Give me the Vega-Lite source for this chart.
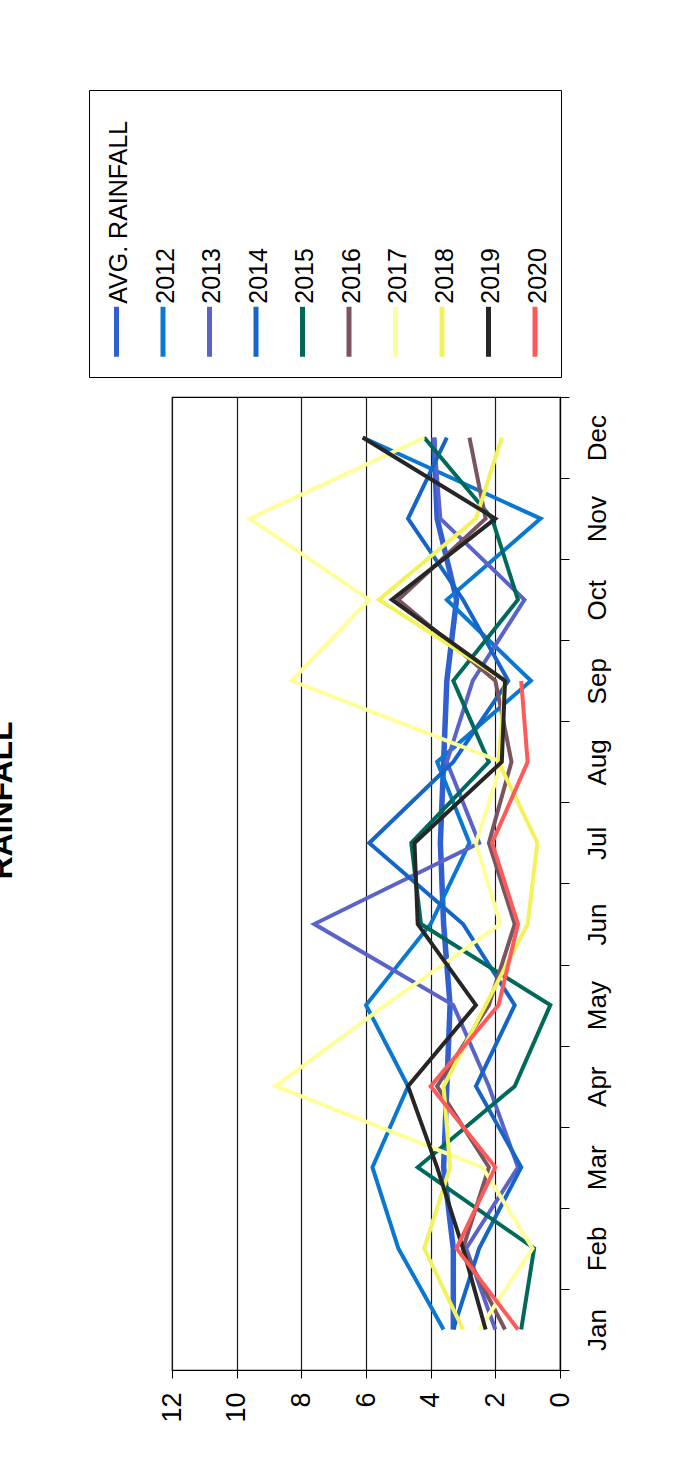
{
  "$schema": "https://vega.github.io/schema/vega-lite/v6.json",
  "autosize": {"type": "none"},
  "padding": {"left": 172, "top": 397, "right": 122, "bottom": 97},
  "width": 388,
  "height": 973,
  "background": "white",
  "title": {"text": "RAINFALL", "orient": "left", "anchor": "middle", "fontSize": 32, "fontWeight": "bold", "font": "Liberation Sans", "color": "black", "offset": 70, "dx": 83},
  "data": {"values": [
    {"month": "Jan", "series": "AVG. RAINFALL", "value": 3.3},
    {"month": "Feb", "series": "AVG. RAINFALL", "value": 3.3},
    {"month": "Mar", "series": "AVG. RAINFALL", "value": 3.6},
    {"month": "Apr", "series": "AVG. RAINFALL", "value": 3.5},
    {"month": "May", "series": "AVG. RAINFALL", "value": 3.4},
    {"month": "Jun", "series": "AVG. RAINFALL", "value": 3.6},
    {"month": "Jul", "series": "AVG. RAINFALL", "value": 3.7},
    {"month": "Aug", "series": "AVG. RAINFALL", "value": 3.6},
    {"month": "Sep", "series": "AVG. RAINFALL", "value": 3.5},
    {"month": "Oct", "series": "AVG. RAINFALL", "value": 3.2},
    {"month": "Nov", "series": "AVG. RAINFALL", "value": 3.8},
    {"month": "Dec", "series": "AVG. RAINFALL", "value": 3.9},
    {"month": "Jan", "series": "2012", "value": 3.6},
    {"month": "Feb", "series": "2012", "value": 5.0},
    {"month": "Mar", "series": "2012", "value": 5.8},
    {"month": "Apr", "series": "2012", "value": 4.7},
    {"month": "May", "series": "2012", "value": 6.0},
    {"month": "Jun", "series": "2012", "value": 4.0},
    {"month": "Jul", "series": "2012", "value": 2.8},
    {"month": "Aug", "series": "2012", "value": 3.8},
    {"month": "Sep", "series": "2012", "value": 0.9},
    {"month": "Oct", "series": "2012", "value": 3.5},
    {"month": "Nov", "series": "2012", "value": 0.6},
    {"month": "Dec", "series": "2012", "value": 6.1},
    {"month": "Jan", "series": "2013", "value": 2.0},
    {"month": "Feb", "series": "2013", "value": 2.9},
    {"month": "Mar", "series": "2013", "value": 1.3},
    {"month": "Apr", "series": "2013", "value": 2.2},
    {"month": "May", "series": "2013", "value": 3.3},
    {"month": "Jun", "series": "2013", "value": 7.6},
    {"month": "Jul", "series": "2013", "value": 2.5},
    {"month": "Aug", "series": "2013", "value": 3.5},
    {"month": "Sep", "series": "2013", "value": 2.7},
    {"month": "Oct", "series": "2013", "value": 1.1},
    {"month": "Nov", "series": "2013", "value": 3.7},
    {"month": "Dec", "series": "2013", "value": 3.9},
    {"month": "Jan", "series": "2014", "value": 3.3},
    {"month": "Feb", "series": "2014", "value": 2.5},
    {"month": "Mar", "series": "2014", "value": 1.2},
    {"month": "Apr", "series": "2014", "value": 2.6},
    {"month": "May", "series": "2014", "value": 1.4},
    {"month": "Jun", "series": "2014", "value": 3.0},
    {"month": "Jul", "series": "2014", "value": 5.9},
    {"month": "Aug", "series": "2014", "value": 3.3},
    {"month": "Sep", "series": "2014", "value": 1.6},
    {"month": "Oct", "series": "2014", "value": 3.0},
    {"month": "Nov", "series": "2014", "value": 4.7},
    {"month": "Dec", "series": "2014", "value": 3.5},
    {"month": "Jan", "series": "2015", "value": 1.2},
    {"month": "Feb", "series": "2015", "value": 0.8},
    {"month": "Mar", "series": "2015", "value": 4.4},
    {"month": "Apr", "series": "2015", "value": 1.4},
    {"month": "May", "series": "2015", "value": 0.3},
    {"month": "Jun", "series": "2015", "value": 4.3},
    {"month": "Jul", "series": "2015", "value": 4.6},
    {"month": "Aug", "series": "2015", "value": 2.2},
    {"month": "Sep", "series": "2015", "value": 3.3},
    {"month": "Oct", "series": "2015", "value": 1.3},
    {"month": "Nov", "series": "2015", "value": 2.1},
    {"month": "Dec", "series": "2015", "value": 4.2},
    {"month": "Jan", "series": "2016", "value": 1.7},
    {"month": "Feb", "series": "2016", "value": 3.0},
    {"month": "Mar", "series": "2016", "value": 2.2},
    {"month": "Apr", "series": "2016", "value": 3.8},
    {"month": "May", "series": "2016", "value": 2.2},
    {"month": "Jun", "series": "2016", "value": 1.4},
    {"month": "Jul", "series": "2016", "value": 2.2},
    {"month": "Aug", "series": "2016", "value": 1.5},
    {"month": "Sep", "series": "2016", "value": 2.0},
    {"month": "Oct", "series": "2016", "value": 5.0},
    {"month": "Nov", "series": "2016", "value": 2.3},
    {"month": "Dec", "series": "2016", "value": 2.8},
    {"month": "Jan", "series": "2017", "value": 2.5},
    {"month": "Feb", "series": "2017", "value": 0.85},
    {"month": "Mar", "series": "2017", "value": 2.4},
    {"month": "Apr", "series": "2017", "value": 8.8},
    {"month": "May", "series": "2017", "value": 5.4},
    {"month": "Jun", "series": "2017", "value": 1.85},
    {"month": "Jul", "series": "2017", "value": 2.6},
    {"month": "Aug", "series": "2017", "value": 1.8},
    {"month": "Sep", "series": "2017", "value": 8.3},
    {"month": "Oct", "series": "2017", "value": 5.9},
    {"month": "Nov", "series": "2017", "value": 9.6},
    {"month": "Dec", "series": "2017", "value": 4.2},
    {"month": "Jan", "series": "2018", "value": 3.0},
    {"month": "Feb", "series": "2018", "value": 4.2},
    {"month": "Mar", "series": "2018", "value": 3.4},
    {"month": "Apr", "series": "2018", "value": 3.6},
    {"month": "May", "series": "2018", "value": 2.3},
    {"month": "Jun", "series": "2018", "value": 1.0},
    {"month": "Jul", "series": "2018", "value": 0.7},
    {"month": "Aug", "series": "2018", "value": 1.9},
    {"month": "Sep", "series": "2018", "value": 1.7},
    {"month": "Oct", "series": "2018", "value": 5.6},
    {"month": "Nov", "series": "2018", "value": 2.6},
    {"month": "Dec", "series": "2018", "value": 1.8},
    {"month": "Jan", "series": "2019", "value": 2.3},
    {"month": "Feb", "series": "2019", "value": 3.0},
    {"month": "Mar", "series": "2019", "value": 3.8},
    {"month": "Apr", "series": "2019", "value": 4.7},
    {"month": "May", "series": "2019", "value": 2.6},
    {"month": "Jun", "series": "2019", "value": 4.4},
    {"month": "Jul", "series": "2019", "value": 4.5},
    {"month": "Aug", "series": "2019", "value": 1.8},
    {"month": "Sep", "series": "2019", "value": 1.7},
    {"month": "Oct", "series": "2019", "value": 5.2},
    {"month": "Nov", "series": "2019", "value": 2.0},
    {"month": "Dec", "series": "2019", "value": 6.1},
    {"month": "Jan", "series": "2020", "value": 1.3},
    {"month": "Feb", "series": "2020", "value": 3.2},
    {"month": "Mar", "series": "2020", "value": 2.0},
    {"month": "Apr", "series": "2020", "value": 4.0},
    {"month": "May", "series": "2020", "value": 1.9},
    {"month": "Jun", "series": "2020", "value": 1.3},
    {"month": "Jul", "series": "2020", "value": 2.1},
    {"month": "Aug", "series": "2020", "value": 1.0},
    {"month": "Sep", "series": "2020", "value": 1.2}
  ]},
  "mark": {"type": "line", "strokeJoin": "miter", "strokeCap": "butt"},
  "encoding": {
    "y": {
      "field": "month", "type": "ordinal",
      "sort": ["Dec", "Nov", "Oct", "Sep", "Aug", "Jul", "Jun", "May", "Apr", "Mar", "Feb", "Jan"],
      "scale": {"type": "band", "paddingInner": 0, "paddingOuter": 0},
      "axis": {
        "orient": "right", "title": null, "tickBand": "extent", "grid": false,
        "domainColor": "black", "domainWidth": 1.2, "tickColor": "black", "tickSize": 9,
        "labelAngle": -90, "labelAlign": "center", "labelBaseline": "top",
        "labelPadding": 15, "labelFontSize": 26, "labelFont": "Liberation Sans", "labelColor": "black"
      }
    },
    "x": {
      "field": "value", "type": "quantitative",
      "scale": {"domain": [0, 12], "reverse": true, "nice": false},
      "axis": {
        "orient": "bottom", "title": null, "values": [0, 2, 4, 6, 8, 10, 12],
        "grid": true, "gridColor": "#1a1a1a", "gridWidth": 1.2, "gridOpacity": 1,
        "domainColor": "black", "domainWidth": 1.2, "tickColor": "black", "tickSize": 8,
        "labelAngle": -90, "labelAlign": "right", "labelBaseline": "middle",
        "labelPadding": 14, "labelFontSize": 27, "labelFont": "Liberation Sans", "labelColor": "black"
      }
    },
    "color": {
      "field": "series", "type": "nominal",
      "scale": {
        "domain": ["AVG. RAINFALL", "2012", "2013", "2014", "2015", "2016", "2017", "2018", "2019", "2020"],
        "range": ["#2F5FD0", "#0A78D0", "#5A64C8", "#1565C8", "#00695A", "#7A5560", "#FFFF99", "#F2F25A", "#262626", "#FF5A5A"]
      },
      "legend": {
        "orient": "none", "legendX": -83, "legendY": -307,
        "direction": "horizontal", "columns": 10,
        "title": " ", "titleFontSize": 10, "titlePadding": 214, "titleOrient": "top",
        "symbolType": "M0,-2.33L0,1", "symbolSize": 900, "symbolStrokeWidth": 5,
        "labelFontSize": 25, "labelFont": "Liberation Sans", "labelColor": "black",
        "labelOffset": -15, "labelLimit": 500, "columnPadding": 12.5,
        "padding": 10, "strokeColor": "black", "fillColor": "white",
        "encode": {
          "labels": {"update": {"angle": {"value": -90}, "align": {"value": "left"}, "baseline": {"value": "middle"}, "dx": {"value": 38}}}
        }
      }
    },
    "strokeWidth": {"condition": {"test": "datum.series == 'AVG. RAINFALL'", "value": 5.5}, "value": 4}
  },
  "config": {
    "view": {"stroke": "black", "strokeWidth": 1.2},
    "font": "Liberation Sans"
  }
}
